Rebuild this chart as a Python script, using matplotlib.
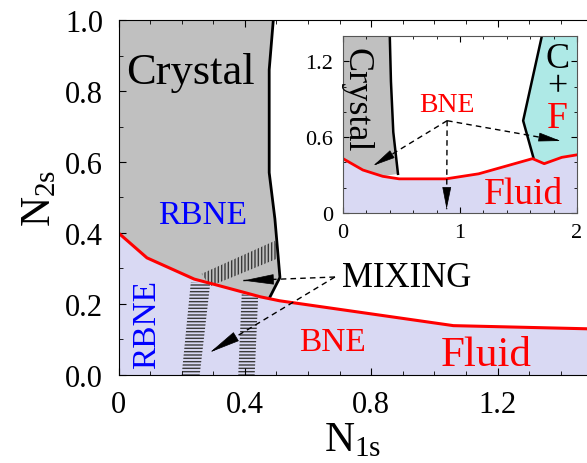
import matplotlib
matplotlib.use('Agg')
import numpy as np
import matplotlib.pyplot as plt
from matplotlib.patches import Polygon
from matplotlib.ticker import MultipleLocator

plt.rcParams['font.family'] = 'Liberation Serif'
plt.rcParams['mathtext.fontset'] = 'custom'
plt.rcParams['mathtext.rm'] = 'Liberation Serif'
plt.rcParams['hatch.linewidth'] = 1.0

# main panel: fluid boundary (red)
fluid_x = [0.0, 0.09, 0.24, 0.30, 0.45, 0.51, 1.06, 1.49]
fluid_y = [0.40, 0.33, 0.27, 0.256, 0.22, 0.209, 0.139, 0.13]
# crystal boundary (black)
cryst_x = [0.49, 0.477, 0.477, 0.495, 0.511, 0.479]
cryst_y = [1.0, 0.86, 0.57, 0.44, 0.275, 0.219]
# mixing bands
mix_diag_x = [0.263, 0.495, 0.511, 0.29]
mix_diag_y = [0.285, 0.378, 0.331, 0.25]
mix_left_x = [0.229, 0.29, 0.257, 0.20]
mix_left_y = [0.262, 0.256, 0.0, 0.0]
mix_right_x = [0.39, 0.442, 0.431, 0.379]
mix_right_y = [0.228, 0.22, 0.0, 0.0]
mix_text = (0.706, 0.276)
mix_src = (0.685, 0.276)
mix_tips = [(0.395, 0.266), (0.29, 0.064)]

# inset
in_fluid_x = [0, 0.17, 0.34, 0.48, 0.88, 1.16, 1.39, 1.62, 1.72, 1.87, 2.0]
in_fluid_y = [0.43, 0.34, 0.29, 0.27, 0.27, 0.31, 0.37, 0.43, 0.39, 0.44, 0.46]
in_cryst_x = [0.40, 0.41, 0.43, 0.47]
in_cryst_y = [1.40, 1.04, 0.64, 0.31]
in_cf_x = [1.70, 1.54, 1.63]
in_cf_y = [1.40, 0.73, 0.43]
bne_src = (0.89, 0.73)
bne_tips = [(0.26, 0.375), (0.886, 0.03), (1.86, 0.57)]

grey = '#c0c0c0'
lav = '#d9d9f3'
cyan = '#aee9e6'


def dashed_arrow(a, src, tip, head_len, head_w):
    # dashed shaft plus a solid black head
    a.plot([src[0], tip[0]], [src[1], tip[1]], color='k', lw=1,
           dashes=(4, 3))
    p0 = a.transData.transform(src)
    p1 = a.transData.transform(tip)
    d = (p0 - p1) / np.hypot(*(p0 - p1))
    off = d * head_len * 72 / fig.dpi
    a.annotate('', xy=tip, xytext=(off[0], off[1]), textcoords='offset points',
               arrowprops=dict(arrowstyle='-|>,head_length=1.0,head_width=%g' % head_w,
                               mutation_scale=head_len * 72 / fig.dpi, lw=0.5,
                               color='k', shrinkA=0, shrinkB=0))


fig = plt.figure(figsize=(5.87, 4.64), dpi=100)
ax = fig.add_axes([0.2019, 0.1897, 0.7981, 0.765])
ax.set_xlim(0, 1.483)
ax.set_ylim(0, 1.0)

ax.fill_between(fluid_x, 0, fluid_y, color=lav, lw=0)
crys_poly = [(0, 1.0)] + list(zip(cryst_x, cryst_y))
crys_poly += [(x, y) for x, y in zip(fluid_x[::-1], fluid_y[::-1]) if x < cryst_x[-1]]
ax.add_patch(Polygon(crys_poly, closed=True, facecolor=grey, edgecolor='none'))
ax.plot(cryst_x, cryst_y, color='k', lw=2)
ax.plot(fluid_x, fluid_y, color='red', lw=2.2)

ax.add_patch(Polygon(list(zip(mix_diag_x, mix_diag_y)), closed=True, fill=False,
                     hatch='|||||', edgecolor='#3a3a3a', lw=0))
ax.add_patch(Polygon(list(zip(mix_left_x, mix_left_y)), closed=True, fill=False,
                     hatch='-----', edgecolor='#3a3a3a', lw=0))
ax.add_patch(Polygon(list(zip(mix_right_x, mix_right_y)), closed=True, fill=False,
                     hatch='-----', edgecolor='#3a3a3a', lw=0))

for tip in mix_tips:
    dashed_arrow(ax, mix_src, tip, 28, 0.17)
ax.text(mix_text[0], mix_text[1], 'MIXING', fontsize=25, va='center', ha='left')
ax.text(0.229, 0.853, 'Crystal', fontsize=32, ha='center', va='center')
ax.text(0.266, 0.45, 'RBNE', fontsize=24, color='blue', ha='center', va='center')
ax.text(0.089, 0.146, 'RBNE', fontsize=24, color='blue', ha='center', va='center',
        rotation=90)
ax.text(0.677, 0.093, 'BNE', fontsize=24, color='red', ha='center', va='center')
ax.text(1.165, 0.058, 'Fluid', fontsize=31, color='red', ha='center', va='center')

ax.set_xticks([0, 0.4, 0.8, 1.2])
ax.set_xticklabels(['0', '0.4', '0.8', '1.2'])
ax.set_yticks([0, 0.2, 0.4, 0.6, 0.8, 1.0])
ax.set_yticklabels(['0.0', '0.2', '0.4', '0.6', '0.8', '1.0'])
ax.xaxis.set_minor_locator(MultipleLocator(0.1))
ax.yaxis.set_minor_locator(MultipleLocator(0.1))
ax.tick_params(which='both', direction='in', top=True, right=False, labelsize=22, pad=11)
ax.tick_params(which='major', length=5)
ax.tick_params(which='minor', length=3)
ax.spines['right'].set_visible(False)
ax.set_xlabel(r'$\mathrm{N_{1s}}$', fontsize=30, labelpad=1)
ax.set_ylabel(r'$\mathrm{N_{2s}}$', fontsize=30, labelpad=4)

# inset
ins = fig.add_axes([0.5843, 0.5388, 0.3986, 0.3815])
ins.set_xlim(0, 2)
ins.set_ylim(0, 1.4)
ins.fill_between(in_fluid_x, 0, in_fluid_y, color=lav, lw=0)
poly = [(0, 1.4)] + list(zip(in_cryst_x, in_cryst_y))
poly += [(x, y) for x, y in zip(in_fluid_x[::-1], in_fluid_y[::-1]) if x < in_cryst_x[-1]]
ins.add_patch(Polygon(poly, closed=True, facecolor=grey, edgecolor='none'))
poly = list(zip(in_cf_x, in_cf_y))
poly += [(x, y) for x, y in zip(in_fluid_x, in_fluid_y) if x > in_cf_x[-1]]
poly += [(2.0, 1.4)]
ins.add_patch(Polygon(poly, closed=True, facecolor=cyan, edgecolor='none'))
ins.plot(in_cryst_x, in_cryst_y, color='k', lw=1.8)
ins.plot(in_cf_x, in_cf_y, color='k', lw=1.8)
ins.plot(in_fluid_x, in_fluid_y, color='red', lw=2)

for tip in bne_tips:
    dashed_arrow(ins, bne_src, tip, 20, 0.2)
ins.text(0.886, 0.86, 'BNE', fontsize=20, color='red', ha='center', va='center')
ins.text(0.11, 0.90, 'Crystal', fontsize=26, ha='center', va='center', rotation=-90)
ins.text(1.83, 1.11, 'C\n+', fontsize=26, ha='center', va='center', linespacing=0.8)
ins.text(1.83, 0.75, 'F', fontsize=27, color='red', ha='center', va='center')
ins.text(1.54, 0.15, 'Fluid', fontsize=27, color='red', ha='center', va='center')

ins.set_xticks([0, 1, 2])
ins.set_yticks([0, 0.6, 1.2])
ins.set_yticklabels(['0', '0.6', '1.2'])
ins.xaxis.set_minor_locator(MultipleLocator(0.2))
ins.yaxis.set_minor_locator(MultipleLocator(0.2))
ins.tick_params(which='both', direction='in', top=True, right=True, labelsize=16, pad=7)
ins.tick_params(which='major', length=4)
ins.tick_params(which='minor', length=2)
for s in ins.spines.values():
    s.set_color('#555555')

fig.savefig('out.png', dpi=100)
